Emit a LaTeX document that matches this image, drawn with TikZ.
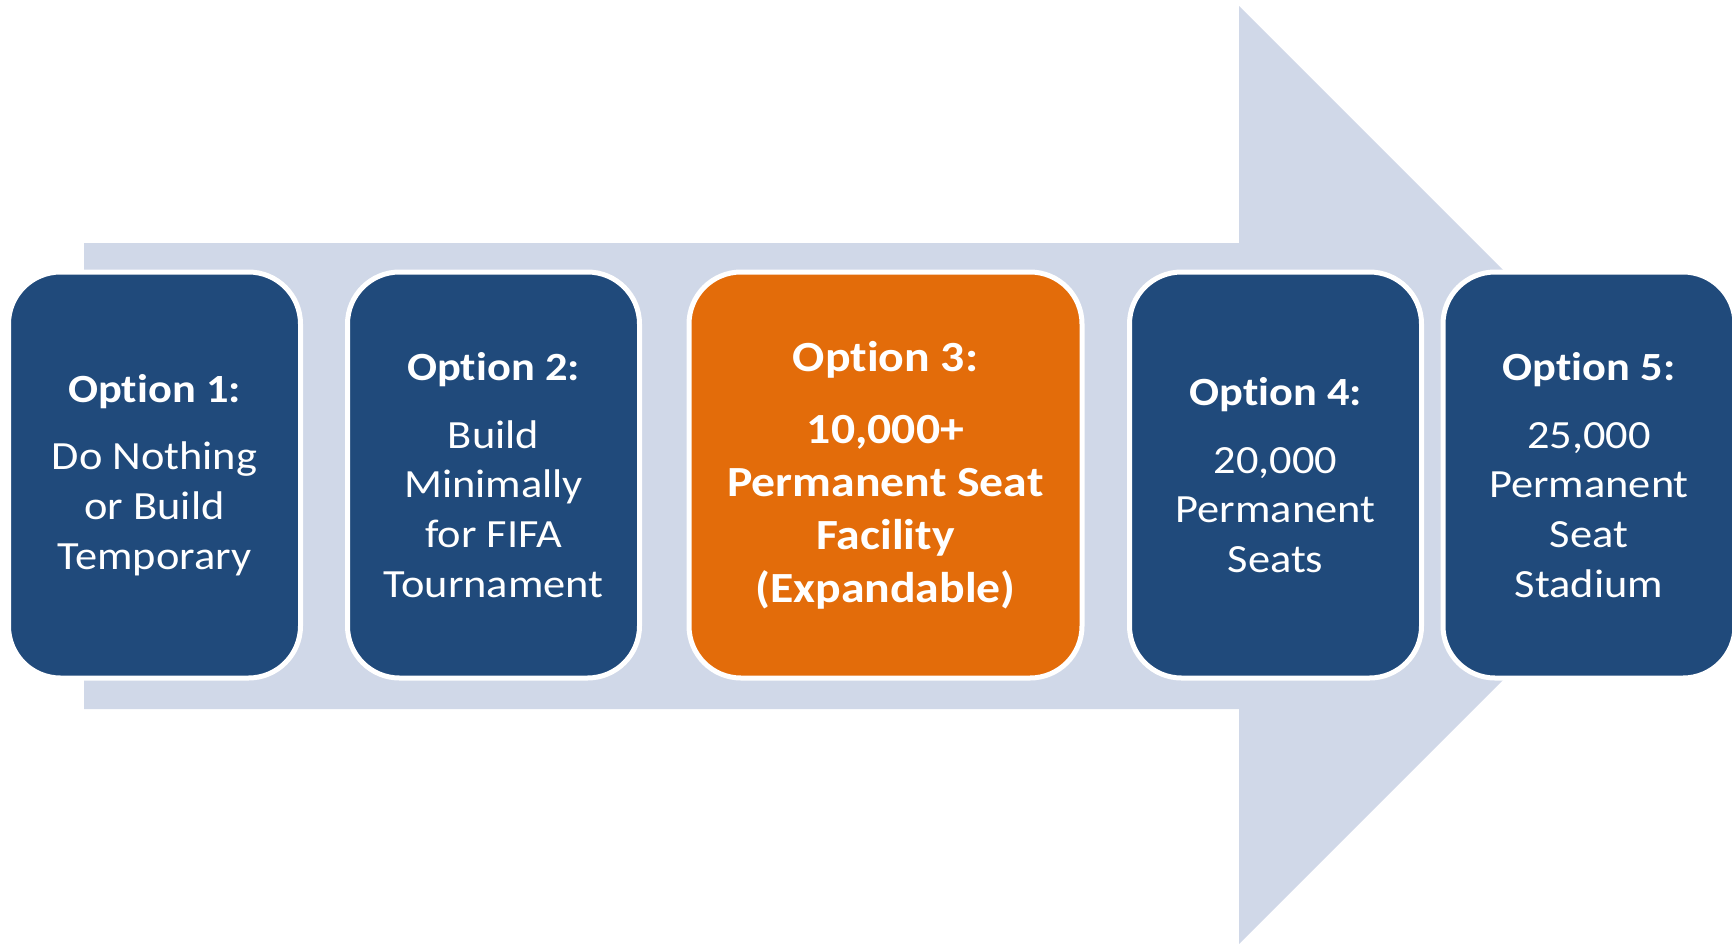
\documentclass[tikz,border=0pt]{standalone}
\usepackage{fontspec}
\setmainfont[Ligatures=NoCommon,FakeStretch=1.11]{Carlito}
\usepackage{tikz}
\usetikzlibrary{positioning,calc}

\definecolor{optblue}{RGB}{32,74,123}
\definecolor{optorange}{RGB}{227,108,10}
\definecolor{arrowgray}{RGB}{208,216,232}

\begin{document}
\begin{tikzpicture}[x=1pt,y=-1pt,
  optbox/.style={draw=white,line width=5pt,fill=optblue,rounded corners=52pt,
    minimum width=292pt,minimum height=406pt,text=white,align=center,inner sep=0pt,
    font=\fontsize{40}{49.7}\selectfont},
  bestbox/.style={optbox,fill=optorange,minimum width=393pt,
    font=\fontsize{43}{53}\selectfont\bfseries}]
\useasboundingbox (0,0) rectangle (1732,943);
\fill [arrowgray] (84,243) -- (1239,243) -- (1239,6) -- (1708,475) -- (1239,944) -- (1239,709) -- (84,709) -- cycle;
\node [optbox] (opt1) at (154.5,475) {\textbf{Option 1:}\\[18pt]Do Nothing\\or Build\\Temporary};
\node [optbox] (opt2) at (493.5,475) {\textbf{Option 2:}\\[18pt]Build\\Minimally\\for FIFA\\Tournament};
\node [bestbox] (opt3) at (885.5,475) {Option 3:\\[19pt]10,000+\\Permanent Seat\\Facility\\(Expandable)};
\node [optbox] (opt4) at (1275.5,475) {\textbf{Option 4:}\\[18pt]20,000\\Permanent\\Seats};
\node [optbox] (opt5) at (1589,475) {\textbf{Option 5:}\\[18pt]25,000\\Permanent\\Seat\\Stadium};
\end{tikzpicture}
\end{document}
